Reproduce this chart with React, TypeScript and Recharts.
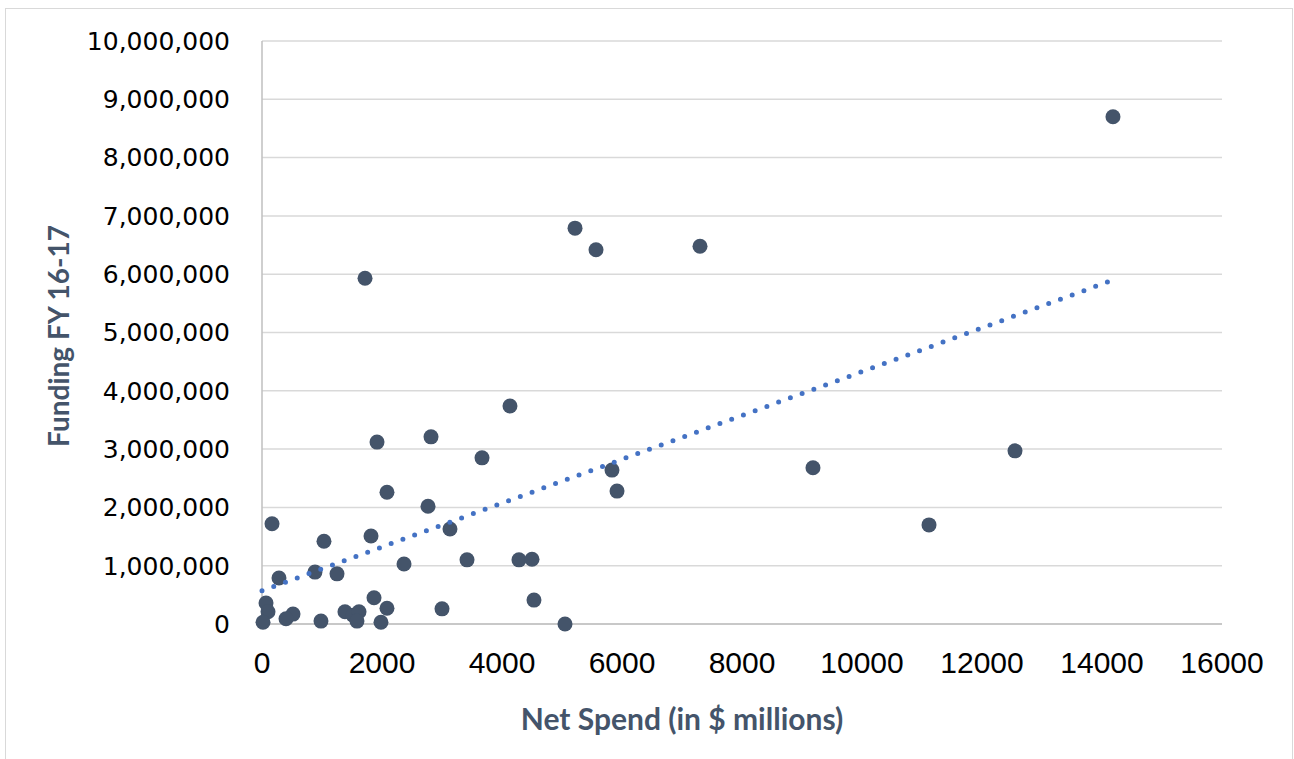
import React from "react";
import {
  ScatterChart,
  Scatter,
  XAxis,
  YAxis,
  CartesianGrid,
} from "recharts";

// Net spend (in $ millions) per point
const netSpend = [
  14183, 5217, 5567, 7300, 1717, 4133, 2817, 1917, 3667, 9183, 12550, 5833,
  5917, 2083, 2767, 167, 11117, 3133, 1033, 1817, 3417, 4283, 4500, 2367, 883,
  1250, 283, 1867, 4533, 67, 100, 2083, 3000, 517, 400, 1383, 1517, 1617, 1583,
  17, 983, 1983, 5050,
];

// Funding FY 16-17, same order
const funding = [
  8700000, 6790000, 6420000, 6480000, 5930000, 3740000, 3210000, 3120000,
  2850000, 2680000, 2970000, 2640000, 2280000, 2260000, 2020000, 1720000,
  1700000, 1630000, 1420000, 1510000, 1100000, 1100000, 1110000, 1030000,
  890000, 860000, 790000, 450000, 410000, 360000, 210000, 270000, 260000,
  170000, 90000, 210000, 150000, 210000, 50000, 30000, 50000, 30000, 0,
];

// linear trendline end points (as drawn)
const trendX = [0, 14183];
const trendY = [570000, 5900000];

const xTicks = [0, 2000, 4000, 6000, 8000, 10000, 12000, 14000, 16000];
const yTicks = [
  0, 1000000, 2000000, 3000000, 4000000, 5000000, 6000000, 7000000, 8000000,
  9000000, 10000000,
];

const points = netSpend.map((x, i) => ({ x, y: funding[i] }));
const trend = trendX.map((x, i) => ({ x, y: trendY[i] }));

const titleColor = "#44546A";
const titleFont = "Lato, 'Open Sans', sans-serif";

const Dot = (props: any) => {
  if (props.cx == null || props.cy == null) return null;
  return <circle cx={props.cx} cy={props.cy} r={7.5} fill="#44546A" />;
};

const NoDot = () => <g />;

export default function App() {
  return (
    <div
      style={{
        position: "absolute",
        left: 0,
        top: 0,
        width: 1294,
        height: 759,
        overflow: "hidden",
        background: "#fff",
      }}
    >
      <div
        style={{
          position: "absolute",
          left: 5,
          top: 8,
          width: 1286,
          height: 770,
          border: "1.5px solid #D9D9D9",
        }}
      />
      <div style={{ position: "absolute", left: 0, top: 0 }}>
        <ScatterChart
          width={1294}
          height={759}
          margin={{ top: 41, right: 72, left: 0, bottom: 0 }}
        >
          <CartesianGrid
            horizontal
            vertical={false}
            stroke="#D9D9D9"
            strokeWidth={1.5}
          />
          <XAxis
            type="number"
            dataKey="x"
            domain={[0, 16000]}
            ticks={xTicks}
            height={135}
            tickSize={0}
            tickMargin={28}
            axisLine={{ stroke: "#BFBFBF", strokeWidth: 1.5 }}
            tick={{
              fill: "#000",
              fontSize: 30,
              fontFamily: "'Liberation Sans Narrow', 'Arial Narrow', sans-serif",
            }}
            label={{
              content: () => (
                <text
                  x={682}
                  y={730}
                  textAnchor="middle"
                  fill={titleColor}
                  fontSize={30}
                  fontWeight={700}
                  fontFamily={titleFont}
                >
                  Net Spend (in $ millions)
                </text>
              ),
            }}
          />
          <YAxis
            type="number"
            dataKey="y"
            domain={[0, 10000000]}
            ticks={yTicks}
            width={262}
            tickSize={0}
            tickMargin={32}
            interval={0}
            axisLine={{ stroke: "#BFBFBF", strokeWidth: 1.5 }}
            tickFormatter={(v) => Number(v).toLocaleString("en-US")}
            tick={{
              fill: "#000",
              fontSize: 25,
              fontFamily: "'DejaVu Sans', sans-serif",
            }}
            label={{
              content: () => (
                <text
                  x={69}
                  y={336}
                  transform="rotate(-90 69 336)"
                  textAnchor="middle"
                  fill={titleColor}
                  fontSize={28}
                  fontWeight={700}
                  fontFamily={titleFont}
                >
                  Funding FY 16-17
                </text>
              ),
            }}
          />
          <Scatter
            data={points}
            shape={<Dot />}
            isAnimationActive={false}
          />
          <Scatter
            data={trend}
            shape={<NoDot />}
            line={{
              stroke: "#4472C4",
              strokeWidth: 5,
              strokeDasharray: "0 12.5",
              strokeLinecap: "round",
            }}
            isAnimationActive={false}
          />
        </ScatterChart>
      </div>
    </div>
  );
}
